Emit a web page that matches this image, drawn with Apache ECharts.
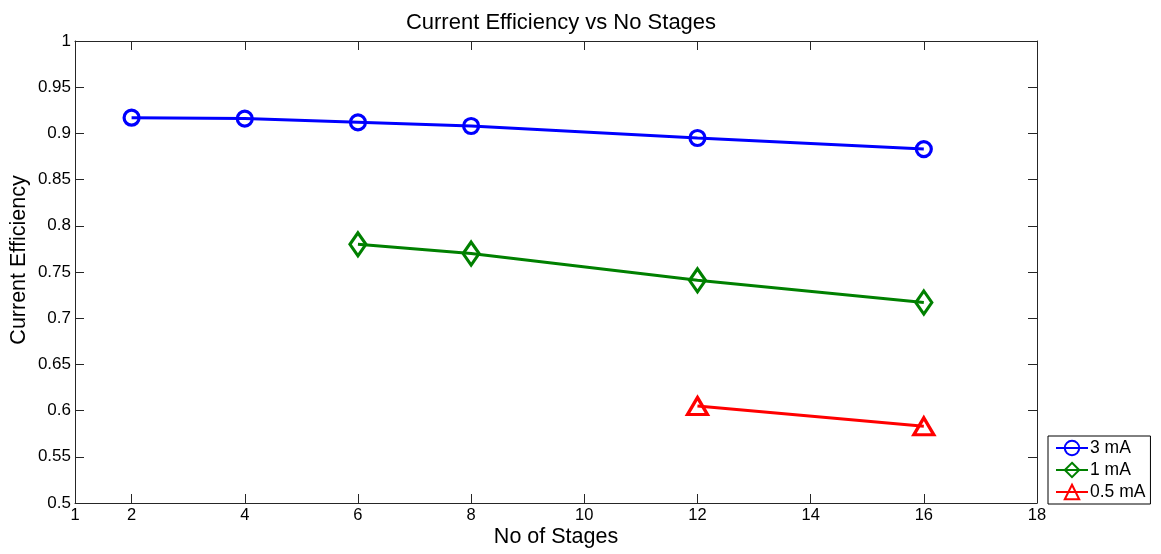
<!DOCTYPE html>
<html>
<head>
<meta charset="utf-8">
<script src="https://cdn.jsdelivr.net/npm/echarts@6/dist/echarts.min.js"></script>
<style>
  html, body { margin: 0; padding: 0; background: #fff; }
  #chart { width: 1161px; height: 554px; }
</style>
</head>
<body>
<div id="chart"></div>
<script>
// Number of stages (x) and current efficiency per drive current
const stages3mA = [2, 4, 6, 8, 12, 16];
const eff3mA = [0.917, 0.916, 0.912, 0.908, 0.895, 0.883];

const stages1mA = [6, 8, 12, 16];
const eff1mA = [0.780, 0.770, 0.741, 0.717];

const stages05mA = [12, 16];
const eff05mA = [0.605, 0.583];

const seriesNames = ['3 mA', '1 mA', '0.5 mA'];

const xTickLabels = [1, 2, 4, 6, 8, 10, 12, 14, 16, 18];
const xTickMarks = [2, 4, 6, 8, 10, 12, 14, 16];

const FONT = '"Liberation Sans", Arial, Helvetica, sans-serif';

function pairs(xs, ys) {
  return xs.map((x, i) => [x, ys[i]]);
}

const chart = echarts.init(document.getElementById('chart'), null, { renderer: 'canvas' });

const axisLine = { show: true, lineStyle: { color: '#262626', width: 1 } };
const tickStyle = { color: '#262626', width: 1 };

// hollow markers: transparent fill, thick coloured outline
function marker(color) {
  return { color: 'rgba(0,0,0,0)', borderColor: color, borderWidth: 3.2 };
}

const option = {
  backgroundColor: '#ffffff',
  animation: false,
  title: {
    text: 'Current Efficiency vs No Stages',
    left: 556,
    textAlign: 'center',
    top: 7,
    textStyle: { fontFamily: FONT, fontSize: 22, fontWeight: 'normal', color: '#000' }
  },
  legend: {
    orient: 'vertical',
    left: 1048,
    top: 436,
    padding: [3, 5, 3, 7],
    itemGap: 4,
    itemWidth: 32,
    itemHeight: 18,
    borderColor: '#000',
    borderWidth: 1,
    backgroundColor: '#fff',
    textStyle: { fontFamily: FONT, fontSize: 17.5, color: '#000', padding: [0, 0, 0, -3] },
    data: seriesNames
  },
  grid: { left: 75, top: 41, right: 124, bottom: 51, containLabel: false, outerBoundsMode: 'none' },
  xAxis: [
    {
      type: 'value',
      min: 1,
      max: 18,
      name: 'No of Stages',
      nameLocation: 'middle',
      nameGap: 23,
      nameMoveOverlap: false,
      nameTextStyle: { fontFamily: FONT, fontSize: 21.5, color: '#000' },
      axisLine: axisLine,
      axisTick: { show: true, inside: true, length: 9, lineStyle: tickStyle, customValues: xTickMarks },
      axisLabel: { fontFamily: FONT, fontSize: 16.5, color: '#000', margin: 4, customValues: xTickLabels },
      splitLine: { show: false }
    },
    {
      type: 'value',
      position: 'top',
      min: 1,
      max: 18,
      axisLine: axisLine,
      axisTick: { show: true, inside: true, length: 9, lineStyle: tickStyle, customValues: xTickMarks },
      axisLabel: { show: false },
      splitLine: { show: false }
    }
  ],
  yAxis: [
    {
      type: 'value',
      min: 0.5,
      max: 1,
      interval: 0.05,
      name: 'Current Efficiency',
      nameLocation: 'middle',
      nameGap: 45,
      nameMoveOverlap: false,
      nameTextStyle: { fontFamily: FONT, fontSize: 21.5, color: '#000', padding: [0, 0, 0, 24] },
      axisLine: axisLine,
      axisTick: { show: true, inside: true, length: 9, lineStyle: tickStyle },
      axisLabel: {
        fontFamily: FONT, fontSize: 17, color: '#000', margin: 4,
        formatter: v => String(+v.toFixed(2))
      },
      splitLine: { show: false }
    },
    {
      type: 'value',
      position: 'right',
      min: 0.5,
      max: 1,
      interval: 0.05,
      axisLine: axisLine,
      axisTick: { show: true, inside: true, length: 9, lineStyle: tickStyle },
      axisLabel: { show: false },
      splitLine: { show: false }
    }
  ],
  series: [
    {
      name: seriesNames[0],
      type: 'line',
      data: pairs(stages3mA, eff3mA),
      symbol: 'circle',
      symbolSize: 15,
      lineStyle: { color: '#0000ff', width: 3 },
      itemStyle: marker('#0000ff'),
      z: 3
    },
    {
      name: seriesNames[1],
      type: 'line',
      data: pairs(stages1mA, eff1mA),
      symbol: 'diamond',
      symbolSize: [16, 23],
      lineStyle: { color: '#008000', width: 3 },
      itemStyle: marker('#008000'),
      z: 3
    },
    {
      name: seriesNames[2],
      type: 'line',
      data: pairs(stages05mA, eff05mA),
      symbol: 'triangle',
      symbolSize: [20, 17],
      lineStyle: { color: '#ff0000', width: 3 },
      itemStyle: marker('#ff0000'),
      z: 3
    }
  ]
};

chart.setOption(option);
</script>
</body>
</html>
